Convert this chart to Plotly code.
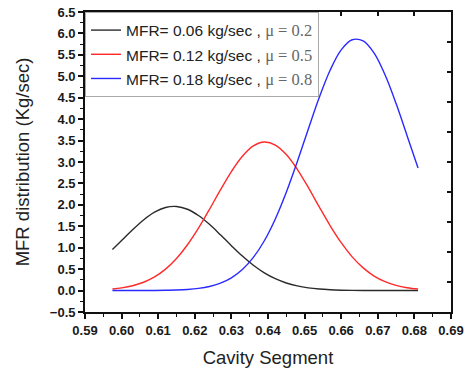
import plotly.graph_objects as go

# Cavity segment positions (x)
x_vals = [0.5975, 0.600, 0.603, 0.606, 0.609, 0.612, 0.615, 0.618, 0.621, 0.624,
          0.627, 0.630, 0.633, 0.636, 0.639, 0.642, 0.645, 0.648, 0.651, 0.654,
          0.657, 0.660, 0.663, 0.666, 0.669, 0.672, 0.675, 0.678, 0.681]

# MFR = 0.06 kg/sec, mu = 0.2
mfr_006 = [0.957, 1.166, 1.419, 1.648, 1.829, 1.939, 1.963, 1.898, 1.752, 1.546,
           1.302, 1.048, 0.805, 0.591, 0.414, 0.277, 0.177, 0.108, 0.063, 0.035,
           0.019, 0.009, 0.004, 0.002, 0.001, 0.0, 0.0, 0.0, 0.0]

# MFR = 0.12 kg/sec, mu = 0.5
mfr_012 = [0.037, 0.062, 0.112, 0.194, 0.318, 0.500, 0.748, 1.069, 1.456, 1.893,
           2.348, 2.777, 3.134, 3.375, 3.466, 3.396, 3.174, 2.830, 2.407, 1.953,
           1.512, 1.117, 0.787, 0.529, 0.339, 0.207, 0.121, 0.067, 0.036]

# MFR = 0.18 kg/sec, mu = 0.8
mfr_018 = [0.0, 0.0, 0.0004, 0.001, 0.0025, 0.006, 0.012, 0.025, 0.050, 0.095,
           0.172, 0.297, 0.490, 0.773, 1.162, 1.671, 2.294, 3.007, 3.766, 4.505,
           5.146, 5.616, 5.852, 5.826, 5.539, 5.029, 4.363, 3.614, 2.860]

series_names = [
    "MFR= 0.06 kg/sec , ",
    "MFR= 0.12 kg/sec , ",
    "MFR= 0.18 kg/sec , ",
]
mu_labels = ["\u03bc = 0.2", "\u03bc = 0.5", "\u03bc = 0.8"]
colors = ["#2b2b2b", "#ff2a2a", "#2a2aff"]

fig = go.Figure()
for ys, name, mu, c in zip([mfr_006, mfr_012, mfr_018], series_names, mu_labels, colors):
    label = ("<span style='font-size:15.5px;color:#222'>" + name + "</span>"
             "<span style='font-family:Liberation Serif;font-size:16.5px;color:#666'>" + mu + "</span>")
    fig.add_trace(go.Scatter(x=x_vals, y=ys, mode="lines", name=label,
                             line=dict(color=c, width=1.4, shape="spline")))

# dummy traces so the mirrored axes are drawn
fig.add_trace(go.Scatter(x=[], y=[], xaxis="x2", yaxis="y", showlegend=False, hoverinfo="skip"))
fig.add_trace(go.Scatter(x=[], y=[], xaxis="x", yaxis="y2", showlegend=False, hoverinfo="skip"))

axis_font = dict(family="Liberation Sans", size=13, color="#1a1a1a", weight="bold")
title_font = dict(family="Liberation Sans", size=18.5, color="#222")

fig.update_layout(
    width=466, height=373,
    margin=dict(l=85, r=15, t=12, b=61),
    paper_bgcolor="white", plot_bgcolor="white",
    showlegend=True,
    legend=dict(x=0, y=1, xanchor="left", yanchor="top",
                xref="paper", yref="paper",
                bgcolor="white", bordercolor="#aaaaaa", borderwidth=1,
                font=dict(family="Liberation Sans", size=16.3, color="#222"),
                tracegroupgap=0),
    xaxis=dict(range=[0.59, 0.69], tick0=0.59, dtick=0.01, tickformat=".2f",
               tickprefix="<b>", ticksuffix="</b>",
               automargin=False,
               ticks="outside", ticklen=5, tickwidth=1.5, tickcolor="#111",
               showline=True, linecolor="#111", linewidth=1.8,
               showgrid=False, zeroline=False, tickfont=axis_font,
               minor=dict(dtick=0.005, ticks="outside", ticklen=3, tickwidth=1.2, tickcolor="#111"),
               title=dict(text="Cavity Segment", font=title_font)),
    yaxis=dict(range=[-0.5, 6.5], tick0=-0.5, dtick=0.5, tickformat=".1f",
               tickprefix="<b>", ticksuffix="</b>",
               automargin=False,
               ticks="outside", ticklen=5, tickwidth=1.5, tickcolor="#111",
               showline=True, linecolor="#111", linewidth=1.8,
               showgrid=False, zeroline=False, tickfont=axis_font,
               minor=dict(dtick=0.25, ticks="outside", ticklen=3, tickwidth=1.2, tickcolor="#111"),
               title=dict(text="MFR distribution (Kg/sec)", font=title_font)),
    xaxis2=dict(overlaying="x", side="top", anchor="y", range=[0.59, 0.69],
                automargin=False,
                tick0=0.59, dtick=0.01, ticks="inside", ticklen=4, tickwidth=1.5,
                tickcolor="#111", showticklabels=False, showline=True,
                linecolor="#111", linewidth=1.8, showgrid=False, zeroline=False),
    yaxis2=dict(overlaying="y", side="right", anchor="x", range=[-0.5, 6.5],
                automargin=False,
                tick0=-0.5, dtick=0.7, ticks="inside", ticklen=4, tickwidth=1.5,
                tickcolor="#111", showticklabels=False, showline=True,
                linecolor="#111", linewidth=1.8, showgrid=False, zeroline=False),
)

fig.write_html("out.html")
